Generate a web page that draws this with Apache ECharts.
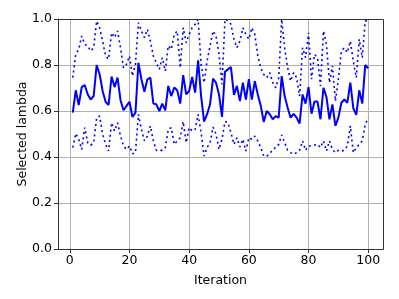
<!DOCTYPE html>
<html>
<head>
<meta charset="utf-8">
<script src="https://cdn.jsdelivr.net/npm/echarts@6/dist/echarts.min.js"></script>
<style>
html,body{margin:0;padding:0;background:#fff;}
#chart{width:399px;height:299px;}
</style>
</head>
<body>
<div id="chart"></div>
<script>
var iterations = [];
for (var i = 1; i <= 100; i++) iterations.push(i);

var meanLambda = [
0.593,0.690,0.626,0.704,0.713,0.673,0.650,0.665,0.800,0.760,
0.687,0.640,0.626,0.750,0.704,0.745,0.647,0.603,0.622,0.640,
0.574,0.593,0.810,0.738,0.684,0.738,0.745,0.632,0.629,0.600,
0.632,0.603,0.709,0.665,0.702,0.690,0.632,0.756,0.672,0.687,
0.748,0.680,0.820,0.665,0.554,0.586,0.629,0.741,0.723,0.672,
0.574,0.771,0.781,0.791,0.670,0.709,0.643,0.723,0.650,0.738,
0.650,0.730,0.672,0.622,0.552,0.600,0.586,0.564,0.578,0.571,
0.752,0.665,0.614,0.571,0.588,0.571,0.545,0.672,0.632,0.704,
0.588,0.641,0.641,0.564,0.701,0.661,0.564,0.629,0.535,0.571,
0.636,0.650,0.636,0.723,0.612,0.583,0.690,0.632,0.800,0.786
];

var upperLambda = [
0.745,0.846,0.868,0.926,0.890,0.883,0.861,0.875,0.991,0.962,
0.904,0.839,0.825,0.940,0.919,0.948,0.875,0.788,0.803,0.839,
0.752,0.803,0.984,0.948,0.919,0.955,0.904,0.839,0.810,0.781,
0.832,0.774,0.883,0.868,0.933,0.948,0.788,0.962,0.897,0.933,
0.962,0.977,0.999,0.803,0.723,0.817,0.883,0.948,0.926,0.846,
0.716,0.999,0.994,0.977,0.912,0.875,0.904,0.962,0.933,0.912,
0.962,0.933,0.839,0.788,0.759,0.745,0.767,0.723,0.701,0.745,
0.999,0.875,0.788,0.730,0.767,0.745,0.665,0.875,0.832,0.940,
0.738,0.846,0.832,0.709,0.948,0.890,0.723,0.796,0.643,0.738,
0.861,0.875,0.854,0.904,0.817,0.745,0.912,0.832,0.991,0.994
];

var lowerLambda = [
0.441,0.502,0.477,0.433,0.528,0.462,0.451,0.462,0.571,0.578,
0.499,0.455,0.426,0.549,0.513,0.549,0.491,0.448,0.433,0.448,
0.414,0.419,0.585,0.520,0.470,0.491,0.535,0.470,0.429,0.429,
0.429,0.441,0.520,0.528,0.455,0.470,0.484,0.554,0.462,0.528,
0.513,0.520,0.585,0.506,0.404,0.441,0.462,0.530,0.499,0.433,
0.477,0.554,0.549,0.506,0.455,0.484,0.444,0.477,0.426,0.484,
0.477,0.491,0.470,0.441,0.404,0.404,0.414,0.433,0.441,0.455,
0.496,0.462,0.429,0.419,0.412,0.419,0.429,0.470,0.429,0.448,
0.448,0.452,0.455,0.441,0.470,0.426,0.470,0.433,0.419,0.429,
0.426,0.429,0.448,0.535,0.419,0.441,0.455,0.470,0.542,0.571
];

var xTicks = [0, 20, 40, 60, 80, 100];
var yTicks = [0.0, 0.2, 0.4, 0.6, 0.8, 1.0];

function pairs(ys) {
  return iterations.map(function (x, i) { return [x, ys[i]]; });
}

var chart = echarts.init(document.getElementById('chart'), null, {renderer: 'canvas'});
var font = 'DejaVu Sans';
var dotted = {color: '#0000ff', width: 1.6, type: [2, 3.2], cap: 'butt'};

chart.setOption({
  animation: false,
  backgroundColor: '#ffffff',
  grid: {left: 58, right: 16, top: 19, bottom: 50, containLabel: false},
  xAxis: {
    type: 'value',
    min: -3.95,
    max: 104.95,
    name: 'Iteration',
    nameLocation: 'middle',
    nameGap: 25,
    nameMoveOverlap: false,
    nameTextStyle: {fontFamily: font, fontSize: 12.5, color: '#000'},
    axisLine: {show: true, onZero: false, lineStyle: {color: '#333', width: 1}},
    axisTick: {show: true, customValues: xTicks, length: 4, inside: false, lineStyle: {color: '#333', width: 1}},
    axisLabel: {customValues: xTicks, fontFamily: font, fontSize: 12.5, color: '#000', margin: 5},
    splitLine: {show: true, lineStyle: {color: '#b0b0b0', width: 1}}
  },
  yAxis: {
    type: 'value',
    min: 0,
    max: 1,
    interval: 0.2,
    name: 'Selected lambda',
    nameLocation: 'middle',
    nameGap: 29,
    nameRotate: 90,
    nameMoveOverlap: false,
    nameTextStyle: {fontFamily: font, fontSize: 12.5, color: '#000'},
    axisLine: {show: true, onZero: false, lineStyle: {color: '#333', width: 1}},
    axisTick: {show: true, length: 4, lineStyle: {color: '#333', width: 1}},
    axisLabel: {fontFamily: font, fontSize: 12.5, color: '#000', margin: 6,
      formatter: function (v) { return v.toFixed(1); }},
    splitLine: {show: true, lineStyle: {color: '#b0b0b0', width: 1}}
  },
  series: [
    {type: 'line', data: pairs(upperLambda), showSymbol: false, symbol: 'none', lineStyle: dotted, z: 3},
    {type: 'line', data: pairs(lowerLambda), showSymbol: false, symbol: 'none', lineStyle: dotted, z: 3},
    {type: 'line', data: pairs(meanLambda), showSymbol: false, symbol: 'none',
      lineStyle: {color: '#0000ff', width: 2}, z: 4}
  ]
});
// right and top spines
chart.setOption({
  graphic: [{
    type: 'rect',
    shape: {x: 58.5, y: 19.5, width: 325, height: 230},
    style: {fill: 'none', stroke: '#333', lineWidth: 1},
    silent: true, z: 100
  }]
});
</script>
</body>
</html>
